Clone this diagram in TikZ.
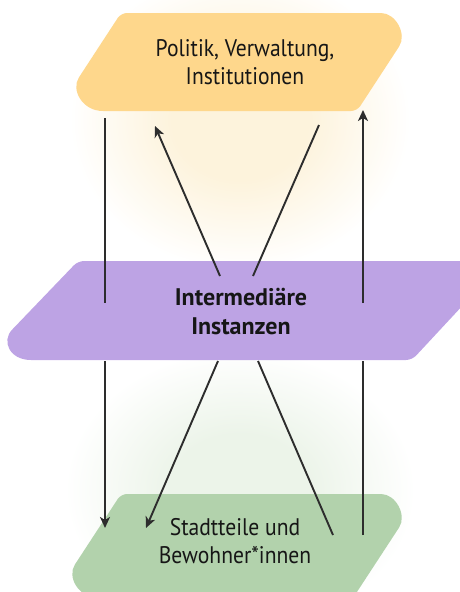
\documentclass[tikz,border=0pt]{standalone}
\usepackage{fontspec}
\setmainfont{PT Sans}[FakeStretch=0.9,BoldFeatures={FakeStretch=1.0}]
\usepackage{xcolor}
\usepackage{tikz}
\usetikzlibrary{calc}
\usetikzlibrary{arrows.meta}

\definecolor{politik}{RGB}{254,215,140}
\definecolor{inter}{RGB}{189,163,228}
\definecolor{stadt}{RGB}{178,210,172}
\definecolor{linie}{RGB}{45,45,45}
\definecolor{schrift}{RGB}{22,22,22}
\definecolor{glowgelb}{RGB}{253,243,220}
\definecolor{glowgruen}{RGB}{236,244,233}

\pgfdeclareradialshading{gelbglow}{\pgfpoint{0bp}{0bp}}{color(0bp)=(glowgelb); color(10bp)=(glowgelb); color(25bp)=(white); color(50bp)=(white)}
\pgfdeclareradialshading{gruenglow}{\pgfpoint{0bp}{0bp}}{color(0bp)=(glowgruen); color(10bp)=(glowgruen); color(25bp)=(white); color(50bp)=(white)}

\tikzset{
	flow/.style={draw=linie,line width=1.9pt},
	pfeil/.style={flow,-{Stealth[length=11pt,width=10pt,inset=3pt]}},
	beschrift/.style={align=center,text=schrift,font=\fontsize{24}{28}\selectfont},
}

\newcommand\schild[3]{%
	\coordinate (#1a) at ($(#1bl)!#3!(#1br)$);
	\coordinate (#1b) at ($(#1tr)!#3!(#1br)$);
	\coordinate (#1c) at ($(#1tr)!#3!(#1tl)$);
	\coordinate (#1d) at ($(#1bl)!#3!(#1tl)$);
	\fill[#2] (#1a) [rounded corners=6pt] -- (#1br) -- (#1b)
		.. controls ($(#1b)!0.45!(#1tr)$) and ($(#1c)!0.45!(#1tr)$) .. (#1c)
		-- (#1tl) -- (#1d)
		.. controls ($(#1d)!0.45!(#1bl)$) and ($(#1a)!0.45!(#1bl)$) .. (#1a);
}

\begin{document}
\begin{tikzpicture}[x=1pt,y=-1pt]
		\useasboundingbox (0,0) rectangle (460,592);
		\shade[shading=gelbglow] (240,120) ellipse [x radius=170,y radius=150];
		\shade[shading=gruenglow] (240,490) ellipse [x radius=175,y radius=140];

		\coordinate (tbl) at (57,111);
		\coordinate (ttl) at (121,13);
		\coordinate (ttr) at (421,13);
		\coordinate (tbr) at (357,111);
		\schild{t}{politik}{46pt}

		\coordinate (mbl) at (-17,360);
		\coordinate (mtl) at (78,261);
		\coordinate (mtr) at (504,261);
		\coordinate (mbr) at (412,360);
		\schild{m}{inter}{48pt}

		\coordinate (bbl) at (53,598);
		\coordinate (btl) at (121,494);
		\coordinate (btr) at (421,494);
		\coordinate (bbr) at (353,598);
		\schild{b}{stadt}{46pt}

		\coordinate (lo1) at (105,118);
		\coordinate (lo2) at (105,303);
		\coordinate (lu1) at (105,361);
		\coordinate (lu2) at (105,528);
		\coordinate (ro1) at (363,303);
		\coordinate (ro2) at (363,110);
		\coordinate (ru1) at (363,535);
		\coordinate (ru2) at (363,361);
		\coordinate (dl1) at (220,276);
		\coordinate (dl2) at (155,126);
		\coordinate (dr1) at (253,276);
		\coordinate (dr2) at (319,125);
		\coordinate (ul1) at (218,361);
		\coordinate (ul2) at (146,528);
		\coordinate (ur1) at (258,361);
		\coordinate (ur2) at (333,535);

		\draw[flow] (lo1) -- (lo2);
		\draw[pfeil] (lu1) -- (lu2);
		\draw[pfeil] (ro1) -- (ro2);
		\draw[flow] (ru1) -- (ru2);
		\draw[pfeil] (dl1) -- (dl2);
		\draw[flow] (dr1) -- (dr2);
		\draw[pfeil] (ul1) -- (ul2);
		\draw[flow] (ur1) -- (ur2);

		\node[beschrift] (politiktext) at (245,62) {Politik, Verwaltung,\\Institutionen};
		\node[beschrift,font=\fontsize{24}{29}\selectfont\bfseries] (instanzentext) at (241,312) {Intermediäre\\Instanzen};
		\node[beschrift] (stadtteiletext) at (235,541) {Stadtteile und\\Bewohner*innen};
	\end{tikzpicture}
\end{document}
